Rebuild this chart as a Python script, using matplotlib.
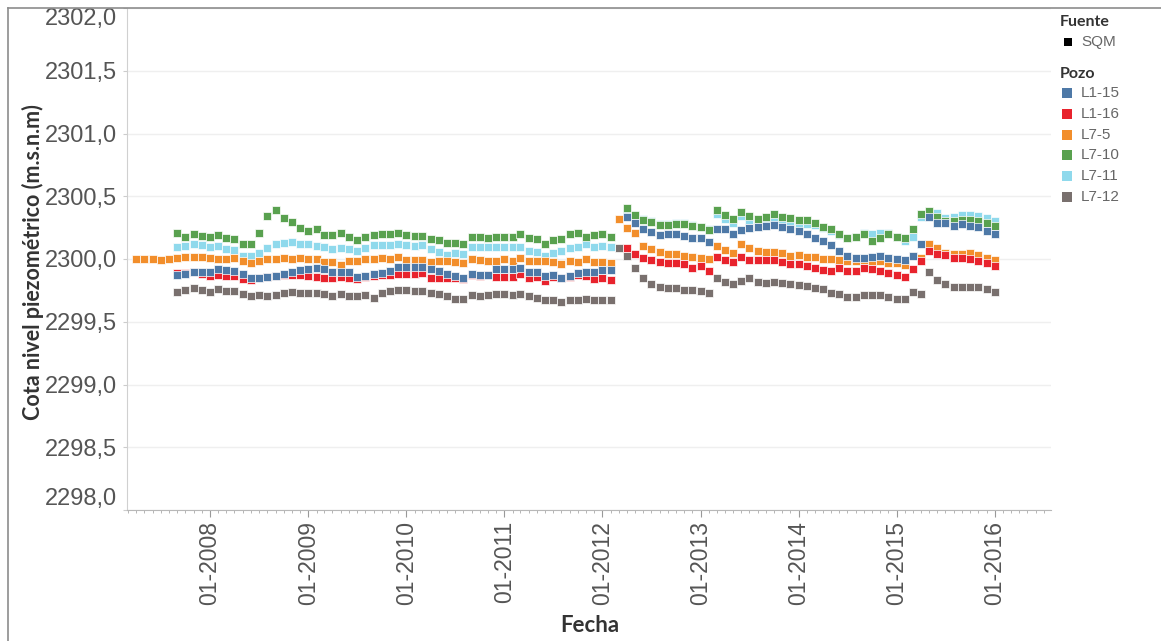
import matplotlib
matplotlib.use('Agg')
import matplotlib.pyplot as plt
import matplotlib.dates as mdates
from matplotlib.ticker import FuncFormatter
from matplotlib.lines import Line2D
from matplotlib.patches import Rectangle
import numpy as np
import pandas as pd

# Monthly dates 04-2007 .. 01-2016
fechas = pd.date_range('2007-04-01', '2016-01-01', freq='MS')

pozos = ['L1-15', 'L1-16', 'L7-5', 'L7-10', 'L7-11', 'L7-12']
colores = ['#4e79a7', '#e8232d', '#f28e2b', '#59a14f', '#8fd9ec', '#79706e']

N = None
# Cota nivel piezometrico (m.s.n.m)
l7_5 = [2300.000, 2300.000, 2300.000, 2299.992, 2300.000, 2300.011, 2300.019, 2300.019, 2300.019,
        2300.011, 2300.000, 2299.997, 2300.005, 2299.987, 2299.965, 2299.984, 2299.997, 2299.997,
        2300.005, 2300.000, 2300.005, 2299.997, 2300.000, 2299.979, 2299.979, 2299.952, 2299.984,
        2299.984, 2299.997, 2299.997, 2300.005, 2300.000, 2300.013, 2299.992, 2299.992, 2299.995,
        2299.979, 2299.987, 2299.984, 2299.973, 2299.971, 2300.000, 2299.992, 2299.987, 2299.984,
        2300.000, 2299.984, 2300.005, 2299.984, 2299.987, 2299.984, 2299.979, 2299.957, 2299.987,
        2299.979, 2300.000, 2299.973, 2299.979, 2299.971,
        2300.317, 2300.245, 2300.205, 2300.104, 2300.077, 2300.053, 2300.040, 2300.037, 2300.024,
        2300.013, 2300.011, 2300.000,
        2300.104, 2300.072, 2300.051, 2300.117, 2300.091, 2300.064, 2300.059, 2300.059, 2300.051,
        2300.027, 2300.032, 2300.013, 2300.013, 2300.000, 2299.997, 2299.992, 2299.987, 2299.987,
        2299.992, 2299.987, 2299.984, 2299.965, 2299.971, 2299.952, 2300.020, 2300.010, 2300.117,
        2300.085, 2300.051, 2300.037, 2300.037, 2300.045, 2300.032, 2300.011, 2299.992]

l7_12 = [N, N, N, N, N,
         2299.739, 2299.752, 2299.765, 2299.752, 2299.739, 2299.760, 2299.747, 2299.747, 2299.723,
         2299.707, 2299.712, 2299.707, 2299.717,
         2299.731, 2299.739, 2299.733, 2299.731, 2299.731, 2299.720, 2299.707, 2299.720, 2299.704,
         2299.704, 2299.717, 2299.691, 2299.733, 2299.747, 2299.752, 2299.752, 2299.747, 2299.744,
         2299.733, 2299.725, 2299.704, 2299.680, 2299.685, 2299.717, 2299.707, 2299.712, 2299.720,
         2299.720, 2299.712, 2299.725, 2299.704, 2299.693, 2299.677, 2299.672, 2299.659, 2299.672,
         2299.677, 2299.685, 2299.672, 2299.677, 2299.672,
         2300.085, 2300.024, 2299.925, 2299.845, 2299.800, 2299.779, 2299.765, 2299.771, 2299.752,
         2299.752, 2299.747, 2299.733,
         2299.845, 2299.819, 2299.797, 2299.827, 2299.845, 2299.813, 2299.805, 2299.819, 2299.805,
         2299.797, 2299.792, 2299.787, 2299.765, 2299.757, 2299.733, 2299.720, 2299.699, 2299.699,
         2299.712, 2299.712, 2299.717, 2299.699, 2299.685, 2299.680, 2299.739, 2299.720, 2299.893,
         2299.832, 2299.797, 2299.779, 2299.773, 2299.779, 2299.773, 2299.760, 2299.739]

l7_10 = [N, N, N, N, N,
         2300.211, 2300.179, 2300.197, 2300.184, 2300.173, 2300.192, 2300.171, 2300.157, 2300.123,
         2300.123, 2300.211, 2300.339, 2300.387,
         2300.325, 2300.291, 2300.245, 2300.227, 2300.237, 2300.192, 2300.192, 2300.205, 2300.173,
         2300.152, 2300.173, 2300.192, 2300.200, 2300.200, 2300.205, 2300.192, 2300.184, 2300.184,
         2300.157, 2300.152, 2300.131, 2300.131, 2300.123, 2300.179, 2300.173, 2300.171, 2300.179,
         2300.179, 2300.173, 2300.197, 2300.165, 2300.157, 2300.123, 2300.152, 2300.160, 2300.200,
         2300.211, 2300.179, 2300.192, 2300.197, 2300.179,
         N,
         2300.405, 2300.352, 2300.312, 2300.293, 2300.272, 2300.272, 2300.277, 2300.277, 2300.259,
         2300.251, 2300.232,
         2300.392, 2300.352, 2300.320, 2300.373, 2300.339, 2300.320, 2300.331, 2300.357, 2300.333,
         2300.325, 2300.307, 2300.312, 2300.285, 2300.253, 2300.237, 2300.197, 2300.171, 2300.173,
         2300.197, 2300.144, 2300.165, 2300.197, 2300.179, 2300.171, 2300.237, 2300.357, 2300.384,
         2300.333, 2300.299, 2300.299, 2300.312, 2300.312, 2300.299, 2300.285, 2300.264]

l7_11 = [N, N, N, N, N,
         2300.093, 2300.107, 2300.117, 2300.112, 2300.099, 2300.107, 2300.083, 2300.069, 2300.027,
         2300.027, 2300.051, 2300.091, 2300.123,
         2300.131, 2300.139, 2300.120, 2300.117, 2300.107, 2300.093, 2300.080, 2300.085, 2300.077,
         2300.064, 2300.085, 2300.112, 2300.112, 2300.112, 2300.120, 2300.112, 2300.107, 2300.112,
         2300.077, 2300.059, 2300.032, 2300.045, 2300.037, 2300.099, 2300.093, 2300.099, 2300.099,
         2300.093, 2300.093, 2300.099, 2300.064, 2300.053, 2300.027, 2300.045, 2300.067, 2300.085,
         2300.093, 2300.117, 2300.099, 2300.104, 2300.099,
         N,
         2300.390, 2300.350, 2300.320, 2300.300, 2300.282, 2300.282, 2300.290, 2300.290, 2300.268,
         2300.252, 2300.240,
         2300.362, 2300.322, 2300.290, 2300.343, 2300.309, 2300.290, 2300.301, 2300.327, 2300.303,
         2300.295, 2300.277, 2300.282, 2300.268, 2300.245, 2300.225, 2300.190, 2300.170, 2300.178,
         2300.205, 2300.197, 2300.205, 2300.205, 2300.175, 2300.140, 2300.179, 2300.331, 2300.365,
         2300.365, 2300.325, 2300.331, 2300.347, 2300.347, 2300.339, 2300.325, 2300.299]

l1_15 = [N, N, N, N, N,
         2299.872, 2299.883, 2299.899, 2299.893, 2299.893, 2299.920, 2299.912, 2299.904, 2299.877,
         2299.851, 2299.851, 2299.853, 2299.867,
         2299.877, 2299.893, 2299.912, 2299.920, 2299.931, 2299.920, 2299.899, 2299.899, 2299.899,
         2299.859, 2299.864, 2299.877, 2299.891, 2299.907, 2299.933, 2299.939, 2299.939, 2299.939,
         2299.920, 2299.907, 2299.880, 2299.864, 2299.845, 2299.877, 2299.872, 2299.872, 2299.917,
         2299.920, 2299.920, 2299.931, 2299.899, 2299.899, 2299.864, 2299.872, 2299.851, 2299.864,
         2299.885, 2299.899, 2299.899, 2299.912, 2299.912,
         N,
         2300.333, 2300.285, 2300.237, 2300.219, 2300.192, 2300.200, 2300.197, 2300.184, 2300.165,
         2300.165, 2300.139,
         2300.237, 2300.237, 2300.197, 2300.232, 2300.245, 2300.253, 2300.259, 2300.272, 2300.253,
         2300.240, 2300.224, 2300.197, 2300.171, 2300.144, 2300.112, 2300.067, 2300.027, 2300.011,
         2300.011, 2300.019, 2300.024, 2300.005, 2300.000, 2299.992, 2300.024, 2300.120, 2300.331,
         2300.285, 2300.285, 2300.264, 2300.277, 2300.264, 2300.253, 2300.224, 2300.200]

l1_16 = [N, N, N, N, N,
         2299.885, 2299.891, 2299.893, 2299.877, 2299.864, 2299.872, 2299.867, 2299.867, 2299.840,
         2299.832, 2299.850, 2299.856, 2299.867,
         2299.872, 2299.875, 2299.872, 2299.867, 2299.859, 2299.851, 2299.845, 2299.859, 2299.851,
         2299.840, 2299.853, 2299.867, 2299.872, 2299.872, 2299.880, 2299.877, 2299.877, 2299.885,
         2299.851, 2299.851, 2299.850, 2299.851, 2299.840, 2299.872, 2299.867, 2299.872, 2299.859,
         2299.859, 2299.853, 2299.880, 2299.845, 2299.859, 2299.824, 2299.859, 2299.845, 2299.859,
         2299.870, 2299.864, 2299.840, 2299.845, 2299.832,
         N,
         2300.085, 2300.037, 2300.005, 2299.992, 2299.979, 2299.971, 2299.971, 2299.957, 2299.931,
         2299.944, 2299.907,
         2300.019, 2299.992, 2299.973, 2300.013, 2299.992, 2299.992, 2299.992, 2299.992, 2299.973,
         2299.960, 2299.957, 2299.944, 2299.931, 2299.912, 2299.904, 2299.925, 2299.904, 2299.907,
         2299.931, 2299.920, 2299.907, 2299.891, 2299.872, 2299.853, 2299.920, 2299.987, 2300.064,
         2300.037, 2300.032, 2300.005, 2300.005, 2299.997, 2299.987, 2299.965, 2299.947]

series = [l1_15, l1_16, l7_5, l7_10, l7_11, l7_12]

y_ticks = [2298.0, 2298.5, 2299.0, 2299.5, 2300.0, 2300.5, 2301.0, 2301.5, 2302.0]

W, H = 1161, 641
fig = plt.figure(figsize=(W / 100, H / 100), dpi=100)
fig.patch.set_facecolor('white')

def fx(px):
    return px / W

def fy(py):
    return 1 - py / H

ax = fig.add_axes([fx(127), fy(510), fx(1051) - fx(127), fy(8) - fy(510)])

# draw last legend entry first so L1-15 ends on top
for nombre, vals, col in reversed(list(zip(pozos, series, colores))):
    v = np.array([np.nan if x is None else x for x in vals], dtype=float)
    ax.plot(fechas, v, ls='none', marker='s', ms=5.9, mfc=col, mec='white',
            mew=0.5, zorder=3)

ax.set_ylim(2298.0, 2302.0)
ax.set_xlim(pd.Timestamp('2007-02-26'), pd.Timestamp('2016-07-28'))
ax.set_yticks(y_ticks)
ax.yaxis.set_major_formatter(FuncFormatter(lambda v, p: f'{v:.1f}'.replace('.', ',')))
ax.grid(axis='y', color='#efefef', lw=1, zorder=0)
ax.xaxis.set_major_locator(mdates.YearLocator())
ax.xaxis.set_minor_locator(mdates.MonthLocator())
ax.xaxis.set_major_formatter(mdates.DateFormatter('%m-%Y'))

for s in ['top', 'right']:
    ax.spines[s].set_visible(False)
ax.spines['left'].set_color('#d0d0d0')
ax.spines['bottom'].set_color('#b8b8b8')

ax.tick_params(axis='x', which='major', length=5, color='#999999', labelsize=16.5,
               labelcolor='#555555', rotation=90, pad=3)
ax.tick_params(axis='x', which='minor', length=2, color='#aaaaaa')
ax.tick_params(axis='y', length=3, color='#cccccc', labelsize=17,
               labelcolor='#555555', pad=4)
for lab in ax.get_xticklabels():
    lab.set_fontfamily('Liberation Sans')
ylabs = ax.get_yticklabels()
for lab in ylabs:
    lab.set_fontfamily('Liberation Sans')
ylabs[0].set_va('bottom')
ylabs[-1].set_va('top')

# axis titles
fig.text(fx(33), fy(262), 'Cota nivel piezométrico (m.s.n.m)', rotation=90, ha='center',
         va='center', fontsize=15.5, fontweight='bold', color='#333333', family='Lato')
fig.text(fx(590), fy(625), 'Fecha', ha='center', va='center', fontsize=16,
         fontweight='bold', color='#333333', family='Lato')

# outer frame (top and left)
fig.add_artist(Line2D([fx(8), fx(8)], [fy(8), 0], transform=fig.transFigure,
                      color='#8c8c8c', lw=1.2))
fig.add_artist(Line2D([fx(8), 1], [fy(8), fy(8)], transform=fig.transFigure,
                      color='#8c8c8c', lw=1.2))

# legend
fig.text(fx(1060), fy(22), 'Fuente', ha='left', va='center', fontsize=11.5,
         fontweight='bold', color='#333333', family='Lato')
fig.add_artist(Rectangle((fx(1064), fy(46)), fx(8), 8 / H, transform=fig.transFigure,
                         facecolor='black', edgecolor='none'))
fig.text(fx(1081), fy(42), 'SQM', ha='left', va='center', fontsize=11,
         color='#666666', family='Liberation Sans')
fig.text(fx(1060), fy(74), 'Pozo', ha='left', va='center', fontsize=11.5,
         fontweight='bold', color='#333333', family='Lato')
for i, (nombre, col) in enumerate(zip(pozos, colores)):
    yc = 93 + i * 20.8
    fig.add_artist(Rectangle((fx(1062), fy(yc + 5)), fx(10), 10 / H,
                             transform=fig.transFigure, facecolor=col, edgecolor='none'))
    fig.text(fx(1081), fy(yc), nombre, ha='left', va='center', fontsize=11,
             color='#666666', family='Liberation Sans')

fig.savefig('out.png', dpi=100)
